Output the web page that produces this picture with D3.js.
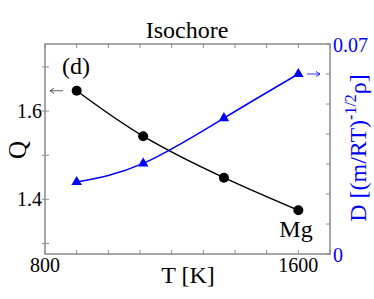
<!DOCTYPE html>
<html>
<head>
<meta charset="utf-8">
<script src="https://cdn.jsdelivr.net/npm/d3@7"></script>
<style>
body{margin:0;background:#fff;}
</style>
</head>
<body>
<svg id="chart" width="374" height="299"></svg>
<script>
// data
var temps = [900, 1110, 1365, 1600];
var qVals = [1.646, 1.543, 1.449, 1.375];
var dVals = [0.0240, 0.0302, 0.0453, 0.0600];
var xTicks = [800, 900, 1000, 1100, 1200, 1300, 1400, 1500, 1600, 1700];
var xLabels = [800, 1600];
var qTicks = [1.3, 1.4, 1.5, 1.6, 1.7];
var qLabels = [1.4, 1.6];
var dTicks = [0, 0.01, 0.02, 0.03, 0.04, 0.05, 0.06, 0.07];
var dLabels = [0, 0.07];

var chart = {};
chart.svg = d3.select("#chart");
chart.left = 45; chart.right = 330; chart.top = 44; chart.bottom = 254;
chart.font = "Liberation Serif";

var x = d3.scaleLinear().domain([800, 1700]).range([chart.left, chart.right]);
var yQ = d3.scaleLinear().domain([1.276, 1.752]).range([chart.bottom, chart.top]);
var yD = d3.scaleLinear().domain([0, 0.07]).range([chart.bottom, chart.top]);

var frameCol = "#8a8a8a";
var blue = "#0000ff";

function txt(xp, yp, size, anchor, str, col){
    return chart.svg.append("text").attr("x", xp).attr("y", yp)
        .attr("text-anchor", anchor)
        .style("font-family", chart.font).style("font-size", size + "px")
        .style("fill", col || "#000").text(str);
}

// frame
chart.svg.append("rect")
    .attr("x", chart.left).attr("y", chart.top)
    .attr("width", chart.right - chart.left).attr("height", chart.bottom - chart.top)
    .style("fill", "none").style("stroke", frameCol).style("stroke-width", 1.5);

// x ticks (bottom + top, inward)
xTicks.forEach(function(t){
    chart.svg.append("line").attr("x1", x(t)).attr("x2", x(t))
        .attr("y1", chart.bottom).attr("y2", chart.bottom - 4)
        .style("stroke", frameCol);
    chart.svg.append("line").attr("x1", x(t)).attr("x2", x(t))
        .attr("y1", chart.top).attr("y2", chart.top + 4)
        .style("stroke", frameCol);
});
xLabels.forEach(function(t){
    txt(x(t), chart.bottom + 18, 20, "middle", t);
});

// left ticks
qTicks.forEach(function(t){
    chart.svg.append("line").attr("x1", chart.left - 3).attr("x2", chart.left + 4)
        .attr("y1", yQ(t)).attr("y2", yQ(t)).style("stroke", frameCol);
});
qLabels.forEach(function(t){
    txt(chart.left - 3, yQ(t) + 7, 20, "end", d3.format(".1f")(t));
});

// right ticks
dTicks.forEach(function(t){
    chart.svg.append("line").attr("x1", chart.right - 4).attr("x2", chart.right)
        .attr("y1", yD(t)).attr("y2", yD(t)).style("stroke", frameCol);
});
dLabels.forEach(function(t){
    txt(chart.right + 3, yD(t) + 8, 20, "start", t, blue);
});

// lines
var lineQ = d3.line().x(function(d, i){ return x(temps[i]); })
    .y(function(d){ return yQ(d); }).curve(d3.curveNatural);
var lineD = d3.line().x(function(d, i){ return x(temps[i]); })
    .y(function(d){ return yD(d); }).curve(d3.curveNatural);

chart.svg.append("path").attr("d", lineQ(qVals))
    .style("fill", "none").style("stroke", "#000").style("stroke-width", 1.5);
chart.svg.append("path").attr("d", lineD(dVals))
    .style("fill", "none").style("stroke", blue).style("stroke-width", 1.5);

chart.svg.selectAll(".dot").data(qVals).enter().append("circle")
    .attr("cx", function(d, i){ return x(temps[i]); })
    .attr("cy", function(d){ return yQ(d); })
    .attr("r", 5).style("fill", "#000");

var tri = d3.symbol().type(d3.symbolTriangle).size(48);
chart.svg.selectAll(".tri").data(dVals).enter().append("path")
    .attr("d", tri)
    .attr("transform", function(d, i){ return "translate(" + x(temps[i]) + "," + yD(d) + ")"; })
    .style("fill", blue);

// arrows
function arrow(x1, x2, y, col){
    chart.svg.append("line").attr("x1", x1).attr("x2", x2).attr("y1", y).attr("y2", y)
        .style("stroke", col).style("stroke-width", 0.8);
    var dir = x2 > x1 ? -1 : 1;
    chart.svg.append("path")
        .attr("d", "M" + (x2 + dir * 4) + "," + (y - 2.5) + "L" + x2 + "," + y + "L" + (x2 + dir * 4) + "," + (y + 2.5))
        .style("fill", "none").style("stroke", col).style("stroke-width", 0.8);
}
arrow(63, 50, yQ(qVals[0]), "#333");
arrow(307, 320, yD(dVals[3]), blue);

// texts
txt(187, 38, 24, "middle", "Isochore");
txt(76, 74, 24, "middle", "(d)");
txt(296, 237, 24, "middle", "Mg");
txt(188, 283, 24, "middle", "T [K]");
txt(0, 0, 25, "middle", "Q").attr("transform", "translate(26,150) rotate(-90)");

var rl = txt(0, 0, 24, "middle", "", blue).attr("transform", "translate(366,148) rotate(-90)");
rl.append("tspan").text("D [(m/RT)");
rl.append("tspan").attr("dy", -10).style("font-size", "16px").text("-1/2");
rl.append("tspan").attr("dy", 10).text("ρ]");
</script>
</body>
</html>
